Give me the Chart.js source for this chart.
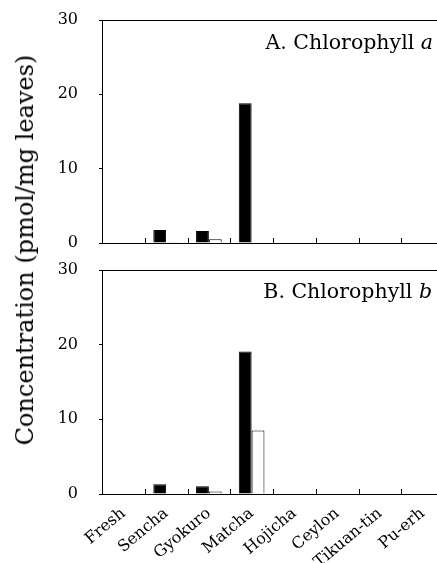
<!DOCTYPE html>
<html>
<head>
<meta charset="utf-8">
<script src="https://cdn.jsdelivr.net/npm/chart.js@4"></script>
<style>
  html, body { margin: 0; padding: 0; background: #fff; overflow: hidden; }
  #wrap { position: relative; width: 437px; height: 563px; overflow: hidden; }
  canvas { position: absolute; left: 0; }
  #chartA { top: 0; }
  #chartB { top: 250px; }
  .panel { position: absolute; font-family: "DejaVu Serif", serif; font-size: 20.5px; color: #000; white-space: nowrap; }
  #ytitle {
    position: absolute; left: 25px; top: 250px;
    transform: translate(-50%, -50%) rotate(-90deg);
    font-family: "DejaVu Serif", serif; font-size: 24px; white-space: nowrap;
  }
</style>
</head>
<body>
<div id="wrap">
  <canvas id="chartA" width="460" height="253"></canvas>
  <canvas id="chartB" width="460" height="313"></canvas>
  <div class="panel" style="right: 4px; top: 30px;">A. Chlorophyll <i>a</i></div>
  <div class="panel" style="right: 5px; top: 279px;">B. Chlorophyll <i>b</i></div>
  <div id="ytitle">Concentration (pmol/mg leaves)</div>
</div>
<script>
const teas = ['Fresh', 'Sencha', 'Gyokuro', 'Matcha', 'Hojicha', 'Ceylon', 'Tikuan-tin', 'Pu-erh'];
const yTicks = [0, 10, 20, 30];

// panel A, chlorophyll a
const chlA_dark = [0, 1.75, 1.6, 18.8, 0, 0, 0, 0];
const chlA_open = [0, 0.1, 0.5, 0, 0, 0, 0, 0];
// panel B, chlorophyll b
const chlB_dark = [0, 1.3, 1.05, 19.1, 0, 0, 0, 0];
const chlB_open = [0, 0, 0.35, 8.5, 0, 0, 0, 0];

// box on top + inward ticks between categories
const frame = {
  id: 'frame',
  afterDraw(chart) {
    const { ctx, chartArea: a } = chart;
    ctx.save();
    ctx.strokeStyle = '#000';
    ctx.lineWidth = 1;
    ctx.beginPath();
    ctx.moveTo(a.left, a.top + 0.5);
    ctx.lineTo(a.right, a.top + 0.5);
    ctx.lineTo(a.right + 0.5, a.bottom);
    const w = (a.right - a.left) / teas.length;
    for (let i = 1; i < teas.length; i++) {
      const px = Math.round(a.left + i * w) + 0.5;
      ctx.moveTo(px, a.bottom);
      ctx.lineTo(px, a.bottom - 5);
    }
    ctx.stroke();
    ctx.restore();
  }
};

function makeChart(id, dark, open, showLabels) {
  return new Chart(document.getElementById(id), {
    type: 'bar',
    data: {
      labels: teas,
      datasets: [
        { data: dark, backgroundColor: '#000', borderColor: '#000', borderWidth: 1 },
        { data: open, backgroundColor: '#fff', borderColor: '#000', borderWidth: 1 }
      ]
    },
    options: {
      responsive: false,
      animation: false,
      events: [],
      layout: { padding: { top: 20, right: 16, left: 0, bottom: 0 } },
      datasets: { bar: { categoryPercentage: 0.6, barPercentage: 1.0 } },
      plugins: { legend: { display: false }, tooltip: { enabled: false } },
      scales: {
        x: {
          grid: { display: false },
          border: { display: true, color: '#000', width: 1 },
          ticks: {
            display: showLabels,
            color: '#000',
            font: { family: 'DejaVu Serif', size: 16 },
            minRotation: 40, maxRotation: 40,
            padding: 2
          },
          afterFit(s) {
            s.height = showLabels ? 69 : 10;
            s.paddingTop = 0; s.paddingBottom = 0;
          }
        },
        y: {
          min: 0, max: 30,
          afterBuildTicks(s) { s.ticks = yTicks.map(v => ({ value: v })); },
          grid: { drawOnChartArea: false, drawTicks: true, tickLength: 3, color: '#000' },
          border: { display: true, color: '#000', width: 1 },
          ticks: {
            color: '#000',
            font: { family: 'DejaVu Serif', size: 16 },
            padding: 21
          },
          afterFit(s) {
            s.width = 102;
            s.paddingTop = 0; s.paddingBottom = 0;
          }
        }
      }
    },
    plugins: [frame]
  });
}

makeChart('chartA', chlA_dark, chlA_open, false);
makeChart('chartB', chlB_dark, chlB_open, true);
</script>
</body>
</html>
